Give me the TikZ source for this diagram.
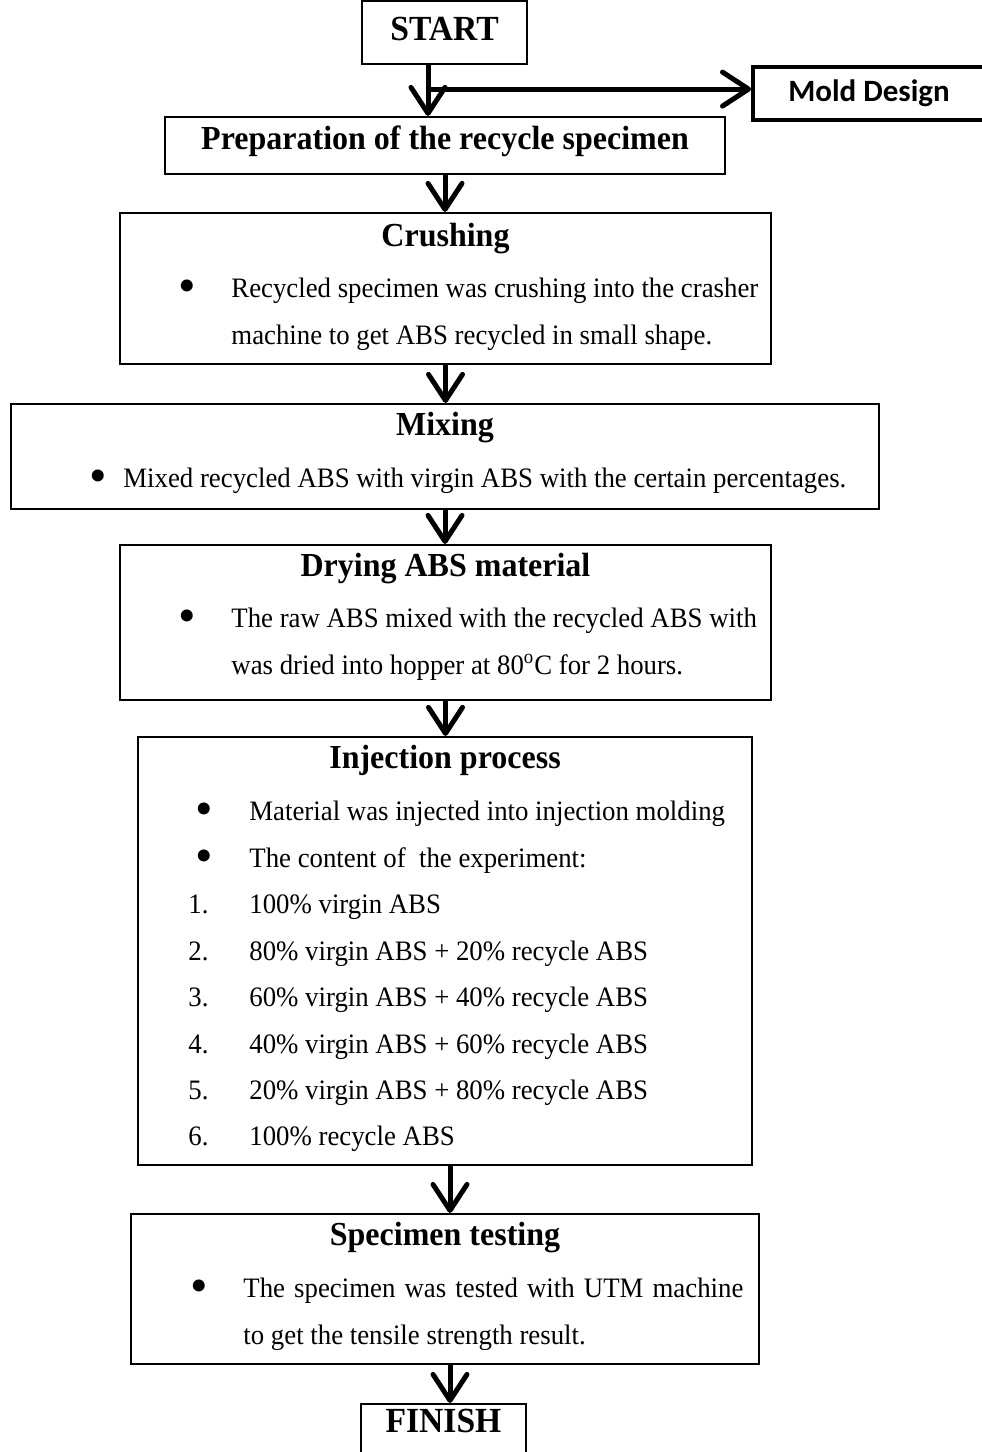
\documentclass[tikz,border=0pt]{standalone}
\usepackage{fontspec}
\setmainfont{Liberation Serif}
\newfontfamily\calibrifont{Carlito}
\usetikzlibrary{arrows.meta}
\tikzset{
  stepbox/.style={draw, line width=1.1pt, inner sep=0pt},
  headtxt/.style={font=\fontsize{16}{19}\selectfont\bfseries, anchor=mid, inner sep=0pt, yscale=1.05, yshift=-3pt},
  endtxt/.style={font=\fontsize{16.8}{20}\selectfont\bfseries, anchor=mid, inner sep=0pt, yscale=1.05, yshift=-3.5pt},
  bodytxt/.style={font=\fontsize{13.4}{16}\selectfont, anchor=mid west, inner sep=0pt, yscale=1.05, yshift=-2.5pt},
  dot/.style={font=\fontsize{25}{25}\selectfont, anchor=center, inner sep=0pt, yshift=-2pt},
  flow/.style={line width=2.5pt, -{Straight Barb[length=13pt,width=17pt,round]}},
}
\begin{document}
\begin{tikzpicture}[x=0.5pt,y=-0.5pt]
\useasboundingbox (0,0) rectangle (981,1452);

% boxes
\node[stepbox, minimum width=82.5pt, minimum height=31.5pt] (start) at (444.5,32.5) {};
\node[stepbox, line width=2pt, minimum width=116pt, minimum height=26.5pt,
      font=\calibrifont\fontsize{15.5}{18}\selectfont\bfseries] (mold) at (869,93.5) {Mold Design};
\node[stepbox, minimum width=280pt, minimum height=28.5pt] (prep) at (445,145.5) {};
\node[stepbox, minimum width=325.5pt, minimum height=75.5pt] (crush) at (445.5,288.5) {};
\node[stepbox, minimum width=434pt, minimum height=52.5pt] (mix) at (445,456.5) {};
\node[stepbox, minimum width=325.5pt, minimum height=77.5pt] (dry) at (445.5,622.5) {};
\node[stepbox, minimum width=307pt, minimum height=214pt] (inj) at (445,951) {};
\node[stepbox, minimum width=314pt, minimum height=75pt] (spec) at (445,1289) {};
\node[stepbox, minimum width=82.5pt, minimum height=27pt] (finish) at (443.5,1431) {};

% texts
\node[endtxt] (starttxt) at (444.5,28) {START};
\node[headtxt] (preptxt) at (445,138) {Preparation of the recycle specimen};

\node[headtxt] (crushhead) at (445.5,235) {Crushing};
\node[dot] (crushdot) at (187,287) {\textbullet};
\node[bodytxt] (crush1) at (231,287) {Recycled specimen was crushing into the crasher};
\node[bodytxt] (crush2) at (231,334) {machine to get ABS recycled in small shape.};

\node[headtxt] (mixhead) at (445,424) {Mixing};
\node[dot] (mixdot) at (98,477) {\textbullet};
\node[bodytxt] (mix1) at (123,477) {Mixed recycled ABS with virgin ABS with the certain percentages.};

\node[headtxt] (dryhead) at (445.5,565) {Drying ABS material};
\node[dot] (drydot) at (187,617) {\textbullet};
\node[bodytxt] (dry1) at (231,617) {The raw ABS mixed with the recycled ABS with};
\node[bodytxt] (dry2) at (231,664) {was dried into hopper at 80\textsuperscript{o}C for 2 hours.};

\node[headtxt] (injhead) at (445,757) {Injection process};
\node[dot] (injdot1) at (204,810) {\textbullet};
\node[bodytxt] (inj1) at (249,810) {Material was injected into injection molding};
\node[dot] (injdot2) at (204,857) {\textbullet};
\node[bodytxt] (inj2) at (249,857) {The content of \ the experiment:};
\node[bodytxt] (num1) at (188,903) {1.};
\node[bodytxt] (mixa) at (249,903) {100\% virgin ABS};
\node[bodytxt] (num2) at (188,950) {2.};
\node[bodytxt] (mixb) at (249,950) {80\% virgin ABS + 20\% recycle ABS};
\node[bodytxt] (num3) at (188,996) {3.};
\node[bodytxt] (mixc) at (249,996) {60\% virgin ABS + 40\% recycle ABS};
\node[bodytxt] (num4) at (188,1043) {4.};
\node[bodytxt] (mixd) at (249,1043) {40\% virgin ABS + 60\% recycle ABS};
\node[bodytxt] (num5) at (188,1089) {5.};
\node[bodytxt] (mixe) at (249,1089) {20\% virgin ABS + 80\% recycle ABS};
\node[bodytxt] (num6) at (188,1135) {6.};
\node[bodytxt] (mixf) at (249,1135) {100\% recycle ABS};

\node[headtxt] (spechead) at (445,1234) {Specimen testing};
\node[dot] (specdot) at (199,1287) {\textbullet};
\node[bodytxt] (spec1) at (243,1287) {\makebox[250pt][s]{The specimen was tested with UTM machine}};
\node[bodytxt] (spec2) at (243,1334) {to get the tensile strength result.};

\node[endtxt] (finishtxt) at (443.5,1420) {FINISH};

% connectors
\coordinate (split) at ([xshift=-8.25pt,yshift=-12pt]start.south);
\draw[flow] ([xshift=-8.25pt]start.south) -- ([xshift=-8.25pt]start.south |- prep.north);
\draw[flow] (split) -- (split -| mold.west);
\draw[flow] (prep.south) -- (prep.south |- crush.north);
\draw[flow] (crush.south) -- (crush.south |- mix.north);
\draw[flow] (mix.south) -- (mix.south |- dry.north);
\draw[flow] (dry.south) -- (dry.south |- inj.north);
\draw[flow] ([xshift=2.5pt]inj.south) -- ([xshift=2.5pt]inj.south |- spec.north);
\draw[flow] ([xshift=2.5pt]spec.south) -- ([xshift=2.5pt]spec.south |- finish.north);
\end{tikzpicture}
\end{document}
